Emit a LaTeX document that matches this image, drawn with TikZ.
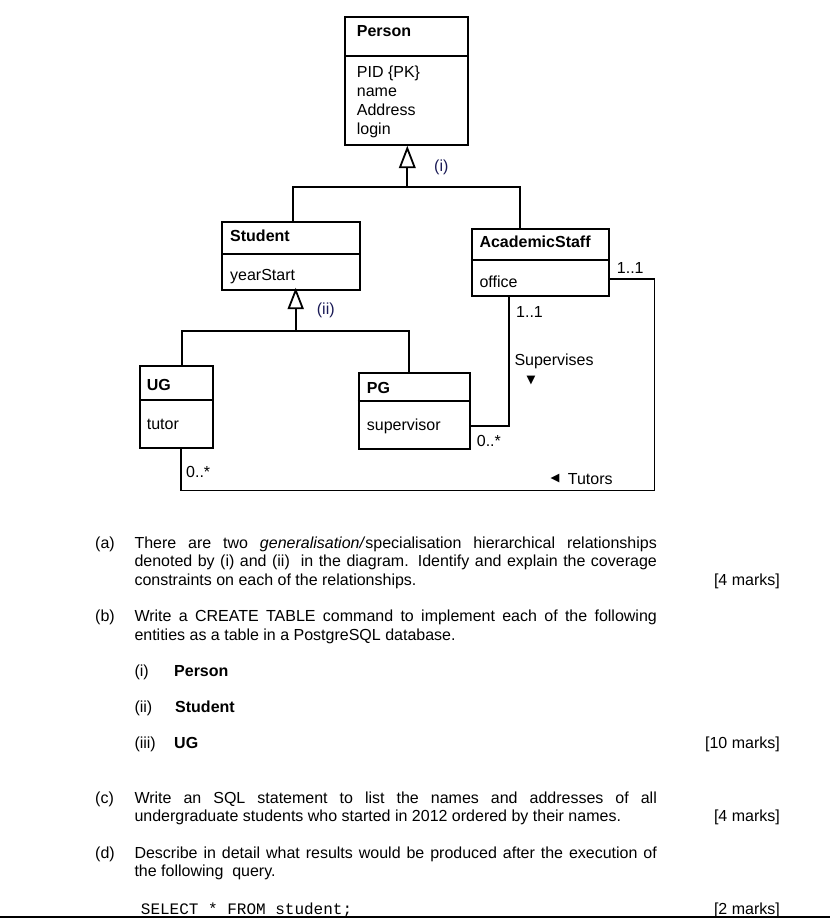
\documentclass[tikz,border=0pt]{standalone}
\usepackage{fontspec}
\usetikzlibrary{calc}
\setmainfont{Liberation Sans}
\newfontfamily\monof{Liberation Mono}
\newfontfamily\symf{DejaVu Sans}
\newcommand\diafont{\fontsize{16}{19}\selectfont}
\definecolor{lblc}{RGB}{25,25,85}
\hbadness=10000
\begin{document}
\begin{tikzpicture}[x=1pt,y=-1pt,
  cls/.style={draw, line width=1.8pt, rectangle, inner sep=0pt, anchor=north west},
  con/.style={line width=1.8pt, line join=miter},
  gentri/.style={draw, line width=1.8pt, fill=white, line join=miter},
  lbl/.style={inner sep=0pt, anchor=base west, font=\diafont},
  ttl/.style={inner sep=0pt, anchor=base west, font=\diafont\bfseries},
  qtx/.style={inner sep=0pt, anchor=base west, font=\diafont},
  mrk/.style={inner sep=0pt, anchor=base east, font=\diafont},
  sym/.style={inner sep=0pt, anchor=center, font=\symf\fontsize{11.5}{11.5}\selectfont}
]
\useasboundingbox (0,0) rectangle (830,918);

% ---------- class boxes ----------
\node[cls, minimum width=122.7pt, minimum height=128.3pt] (person) at (344,16) {};
\node[cls, minimum width=137.4pt, minimum height=67.7pt] (student) at (221.3,221.3) {};
\node[cls, minimum width=137.3pt, minimum height=67.6pt] (acad) at (470.7,227.7) {};
\node[cls, minimum width=72.7pt, minimum height=81.7pt] (ug) at (139.3,365) {};
\node[cls, minimum width=111.6pt, minimum height=75.7pt] (pg) at (357.7,372.3) {};

% dividers
\coordinate (dpers) at (0,55.7);
\coordinate (dstu) at (0,254);
\coordinate (dacad) at (0,260);
\coordinate (dug) at (0,400.3);
\coordinate (dpg) at (0,401.3);
\draw[con] (person.west |- dpers) -- (person.east |- dpers);
\draw[con] (student.west |- dstu) -- (student.east |- dstu);
\draw[con] (acad.west |- dacad) -- (acad.east |- dacad);
\draw[con] (ug.west |- dug) -- (ug.east |- dug);
\draw[con] (pg.west |- dpg) -- (pg.east |- dpg);

% class texts
\node[ttl] (tperson) at (356.7,36.5) {Person};
\node[lbl] (a1) at (356.7,77) {PID \{PK\}};
\node[lbl] (a2) at (356.7,96.3) {name};
\node[lbl] (a3) at (356.7,115.6) {Address};
\node[lbl] (a4) at (356.7,134.9) {login};

\node[ttl] (tstudent) at (230,241) {Student};
\node[lbl] (a5) at (230,280.5) {yearStart};

\node[ttl] (tacad) at (479.3,247.5) {AcademicStaff};
\node[lbl] (a6) at (479.3,287) {office};

\node[ttl] (tug) at (146.7,390.5) {UG};
\node[lbl] (a7) at (146.7,429.5) {tutor};

\node[ttl] (tpg) at (366.7,393.2) {PG};
\node[lbl] (a8) at (366.7,430.5) {supervisor};

% ---------- generalisation (i) ----------
\coordinate (tipA) at (407.3,148.3);
\coordinate (baseA) at (407.3,167.3);
\coordinate (jA) at (407.3,186.7);
\coordinate (j1) at (293.3,186.7);
\coordinate (j2) at (520,186.7);
\draw[con] (baseA) -- (jA);
\draw[con] (student.north -| j1) -- (j1) -- (j2) -- (acad.north -| j2);
\draw[gentri] (tipA) -- ($(baseA)+(-7.3,0)$) -- ($(baseA)+(7.3,0)$) -- cycle;
\node[lbl, text=lblc] (li) at (434,171.5) {(i)};

% ---------- generalisation (ii) ----------
\coordinate (tipB) at (295.7,290.3);
\coordinate (baseB) at (295.7,308.3);
\coordinate (jB) at (295.7,330.7);
\coordinate (j3) at (182.3,330.7);
\coordinate (j4) at (409,330.7);
\draw[con] (baseB) -- (jB);
\draw[con] (ug.north -| j3) -- (j3) -- (j4) -- (pg.north -| j4);
\draw[gentri] (tipB) -- ($(baseB)+(-7,0)$) -- ($(baseB)+(7,0)$) -- cycle;
\node[lbl, text=lblc] (lii) at (316.7,314) {(ii)};

% ---------- Tutors association ----------
\coordinate (t1) at (654.5,279.3);
\coordinate (t2) at (654.5,490.5);
\coordinate (t3) at (180.7,490.5);
\draw[con] (acad.east |- t1) -- (t1) -- (t2) -- (t3) -- (ug.south -| t3);
\node[lbl] (m1) at (616.7,273.5) {1..1};
\node[lbl] (m2) at (186,477.3) {0..*};
\node[sym] (tri2) at (555,478.3) {◀};
\node[lbl] (tut) at (567.7,484) {Tutors};

% ---------- Supervises association ----------
\coordinate (s2) at (509,425.7);
\draw[con] (acad.south -| s2) -- (s2) -- (pg.east |- s2);
\node[lbl] (m3) at (516,317.5) {1..1};
\node[lbl] (sup) at (514.3,365) {Supervises};
\node[sym] (tri1) at (531,380.7) {▼};
\node[lbl] (m4) at (476.7,446) {0..*};

% ---------- questions ----------
\node[qtx] (qa) at (95,548) {(a)};
\node[qtx] (qa1) at (134.3,548) {\makebox[522.4pt][s]{There are two \textit{generalisation/}specialisation hierarchical relationships}};
\node[qtx] (qa2) at (134.3,566.5) {\makebox[522.4pt][s]{denoted by (i) and (ii) \ in the diagram. Identify and explain the coverage}};
\node[qtx] (qa3) at (134.3,585) {constraints on each of the relationships.};
\node[mrk] (mka) at (780,585) {[4 marks]};

\node[qtx] (qb) at (95,621.7) {(b)};
\node[qtx] (qb1) at (134.3,621.7) {\makebox[522.4pt][s]{Write a CREATE TABLE command to implement each of the following}};
\node[qtx] (qb2) at (134.3,640) {entities as a table in a PostgreSQL database.};

\node[qtx] (qbi) at (134.3,676.5) {(i)};
\node[ttl] (qbi1) at (174,676.5) {Person};
\node[qtx] (qbii) at (134.3,712.3) {(ii)};
\node[ttl] (qbii1) at (175,712.3) {Student};
\node[qtx] (qbiii) at (134.3,748.3) {(iii)};
\node[ttl] (qbiii1) at (174,748.3) {UG};
\node[mrk] (mkb) at (780,748.3) {[10 marks]};

\node[qtx] (qc) at (95,803.3) {(c)};
\node[qtx] (qc1) at (134.3,803.3) {\makebox[522.4pt][s]{Write an SQL statement to list the names and addresses of all}};
\node[qtx] (qc2) at (134.3,821.7) {undergraduate students who started in 2012 ordered by their names.};
\node[mrk] (mkc) at (780,821.7) {[4 marks]};

\node[qtx] (qd) at (95,858.3) {(d)};
\node[qtx] (qd1) at (134.3,858.3) {\makebox[522.4pt][s]{Describe in detail what results would be produced after the execution of}};
\node[qtx] (qd2) at (134.3,876.7) {the following \ query.};

\node[inner sep=0pt, anchor=base west, font=\monof\fontsize{16}{19}\selectfont] (sql) at (140.7,914) {SELECT * FROM student;};
\node[mrk] (mkd) at (780,914) {[2 marks]};

\coordinate (bl) at (0,916.8);
\coordinate (br) at (830,916.8);
\draw[line width=1.4pt] (bl) -- (br);
\end{tikzpicture}
\end{document}
